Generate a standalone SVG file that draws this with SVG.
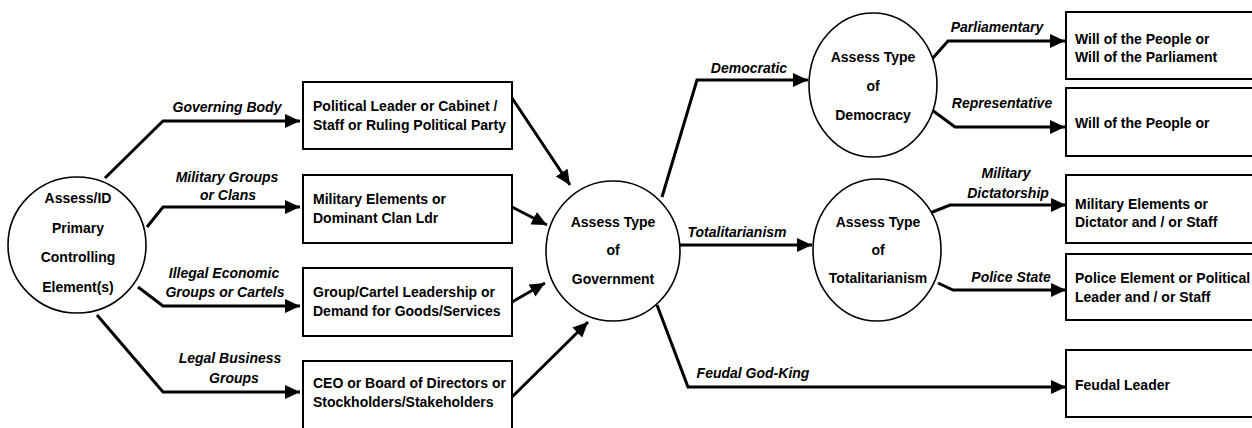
<svg xmlns="http://www.w3.org/2000/svg" width="1252" height="428" viewBox="0 0 1252 428">
<style>
.bg{fill:#fff}
.node{fill:#fff;stroke:#000;stroke-width:2}
.circ{fill:#fff;stroke:#000;stroke-width:1.6}
.t{font-family:"Liberation Sans",Arial,sans-serif;font-size:14px;font-weight:bold;fill:#000}
.c{text-anchor:middle}
.lbl{font-family:"Liberation Sans",Arial,sans-serif;font-size:14px;font-weight:bold;font-style:italic;fill:#000;text-anchor:middle}
.conn{fill:none;stroke:#000;stroke-width:3;stroke-linejoin:miter}
</style>
<defs>
<marker id="ah" markerUnits="userSpaceOnUse" markerWidth="16" markerHeight="14" refX="15" refY="7" orient="auto">
<path d="M0,0 L15,7 L0,14 z" fill="#000"/>
</marker>
</defs>
<rect class="bg" x="0" y="0" width="1252" height="428"/>

<g id="connectors">
<path class="conn" d="M105,178 L163,121 L300,121" marker-end="url(#ah)"/>
<path class="conn" d="M147,227 L163,207 L300,207" marker-end="url(#ah)"/>
<path class="conn" d="M138,287 L163,306 L300,306" marker-end="url(#ah)"/>
<path class="conn" d="M97,315 L163,392 L300,392" marker-end="url(#ah)"/>
<path class="conn" d="M512,98 L570,185" marker-end="url(#ah)"/>
<path class="conn" d="M512,207 L547,225" marker-end="url(#ah)"/>
<path class="conn" d="M512,302 L545,283" marker-end="url(#ah)"/>
<path class="conn" d="M512,397 L588,322" marker-end="url(#ah)"/>
<path class="conn" d="M662,197 L697,80 L808,80" marker-end="url(#ah)"/>
<path class="conn" d="M680,245 L812,245" marker-end="url(#ah)"/>
<path class="conn" d="M657,305 L688,387 L1066,387" marker-end="url(#ah)"/>
<path class="conn" d="M932,59 L948,41 L1065,41" marker-end="url(#ah)"/>
<path class="conn" d="M932,110 L955,127 L1065,127" marker-end="url(#ah)"/>
<path class="conn" d="M930,213 L950,205 L1066,205" marker-end="url(#ah)"/>
<path class="conn" d="M938,283 L953,290 L1066,290" marker-end="url(#ah)"/>
<text class="lbl" x="227" y="112">Governing Body</text>
<text class="lbl" x="227" y="182">Military Groups</text>
<text class="lbl" x="228" y="200">or Clans</text>
<text class="lbl" x="224" y="278">Illegal Economic</text>
<text class="lbl" x="225" y="297">Groups or Cartels</text>
<text class="lbl" x="230" y="363">Legal Business</text>
<text class="lbl" x="234" y="383">Groups</text>
<text class="lbl" x="749" y="73">Democratic</text>
<text class="lbl" x="737" y="237">Totalitarianism</text>
<text class="lbl" x="753" y="378">Feudal God-King</text>
<text class="lbl" x="997" y="32">Parliamentary</text>
<text class="lbl" x="1002" y="108">Representative</text>
<text class="lbl" x="1006" y="178">Military</text>
<text class="lbl" x="1008" y="198">Dictatorship</text>
<text class="lbl" x="1011" y="282">Police State</text>
</g>

<g id="n-primary">
<ellipse class="circ" cx="77" cy="245" rx="69" ry="68"/>
<text class="t c" x="78" y="203">Assess/ID</text>
<text class="t c" x="78" y="233">Primary</text>
<text class="t c" x="78" y="262">Controlling</text>
<text class="t c" x="78" y="292">Element(s)</text>
</g>

<g id="n-political">
<rect class="node" x="303" y="82" width="209" height="67"/>
<text class="t" x="313" y="111">Political Leader or Cabinet /</text>
<text class="t" x="313" y="130">Staff or Ruling Political Party</text>
</g>
<g id="n-military">
<rect class="node" x="303" y="175" width="209" height="68"/>
<text class="t" x="313" y="204">Military Elements or</text>
<text class="t" x="313" y="223">Dominant Clan Ldr</text>
</g>
<g id="n-cartel">
<rect class="node" x="303" y="268" width="209" height="68"/>
<text class="t" x="313" y="297">Group/Cartel Leadership or</text>
<text class="t" x="313" y="316">Demand for Goods/Services</text>
</g>
<g id="n-ceo">
<rect class="node" x="303" y="361" width="209" height="80"/>
<text class="t" x="313" y="388">CEO or Board of Directors or</text>
<text class="t" x="313" y="407">Stockholders/Stakeholders</text>
</g>

<g id="n-government">
<ellipse class="circ" cx="613" cy="251" rx="67" ry="70"/>
<text class="t c" x="613" y="227">Assess Type</text>
<text class="t c" x="613" y="255">of</text>
<text class="t c" x="613" y="284">Government</text>
</g>

<g id="n-democracy">
<ellipse class="circ" cx="873" cy="85" rx="64" ry="72"/>
<text class="t c" x="873" y="62">Assess Type</text>
<text class="t c" x="873" y="91">of</text>
<text class="t c" x="873" y="120">Democracy</text>
</g>

<g id="n-totalitarianism">
<ellipse class="circ" cx="877" cy="250" rx="64" ry="71"/>
<text class="t c" x="878" y="227">Assess Type</text>
<text class="t c" x="878" y="255">of</text>
<text class="t c" x="878" y="283">Totalitarianism</text>
</g>

<g id="n-parliament">
<rect class="node" x="1066" y="12" width="200" height="67"/>
<text class="t" x="1075" y="44">Will of the People or</text>
<text class="t" x="1075" y="62">Will of the Parliament</text>
</g>
<g id="n-representative">
<rect class="node" x="1066" y="88" width="200" height="68"/>
<text class="t" x="1075" y="128">Will of the People or</text>
</g>
<g id="n-dictator">
<rect class="node" x="1066" y="175" width="200" height="68"/>
<text class="t" x="1075" y="209">Military Elements or</text>
<text class="t" x="1075" y="227">Dictator and / or Staff</text>
</g>
<g id="n-police">
<rect class="node" x="1066" y="254" width="200" height="66"/>
<text class="t" x="1075" y="283">Police Element or Political</text>
<text class="t" x="1075" y="302">Leader and / or Staff</text>
</g>
<g id="n-feudal">
<rect class="node" x="1066" y="350" width="200" height="67"/>
<text class="t" x="1075" y="390">Feudal Leader</text>
</g>
</svg>
